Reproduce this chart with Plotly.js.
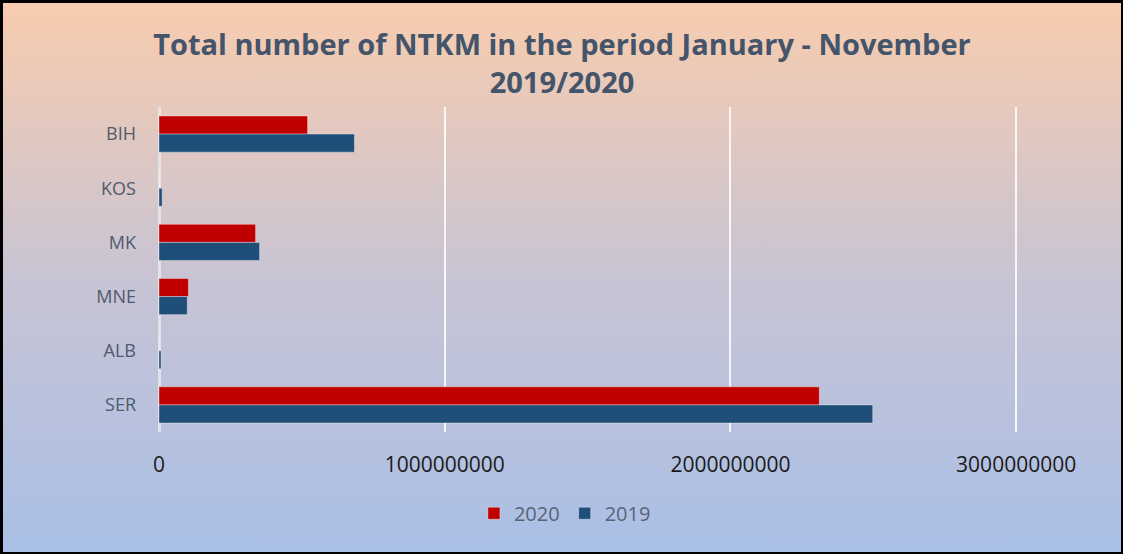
<!DOCTYPE html>
<html>
<head>
<meta charset="utf-8">
<script src="https://cdn.plot.ly/plotly-3.0.1.min.js"></script>
<style>
  html, body { margin: 0; padding: 0; background: #fff; }
  #chart {
    width: 1123px; height: 554px; box-sizing: border-box;
    border-left: 3px solid #000; border-top: 3px solid #000;
    border-right: 2px solid #000; border-bottom: 2px solid #000;
    background: linear-gradient(to bottom, #F8CCAE 0%, #C8C4D4 50%, #A9BFE6 100%);
  }
</style>
</head>
<body>
<div id="chart"></div>
<script>
const categories = ['BIH', 'KOS', 'MK', 'MNE', 'ALB', 'SER'];
const values2020 = [520000000, 0, 338000000, 103000000, 0, 2311000000];
const values2019 = [684000000, 11000000, 352000000, 99000000, 7000000, 2498000000];
const seriesNames = ['2020', '2019'];
const tickValues = [0, 1000000000, 2000000000, 3000000000];
const tickLabels = ['0', '1000000000', '2000000000', '3000000000'];

const traces = [
  {
    type: 'bar', orientation: 'h', name: seriesNames[0],
    y: categories, x: values2020,
    marker: { color: '#C00000', line: { color: 'rgba(255,255,255,0.35)', width: 1 } }
  },
  {
    type: 'bar', orientation: 'h', name: seriesNames[1],
    y: categories, x: values2019,
    marker: { color: '#1F4E79', line: { color: 'rgba(255,255,255,0.35)', width: 1 } }
  }
];

const layout = {
  width: 1118, height: 549,
  paper_bgcolor: 'rgba(0,0,0,0)',
  plot_bgcolor: 'rgba(0,0,0,0)',
  margin: { l: 156, r: 102, t: 104, b: 120 },
  barmode: 'group',
  bargap: 0.333,
  bargroupgap: 0,
  title: {
    text: 'Total number of NTKM in the period January - November<br>2019/2020',
    font: { family: 'Open Sans, sans-serif', size: 29, color: '#44546A', weight: 'bold' },
    x: 0.5, xanchor: 'center', xref: 'container',
    y: 0.905, yanchor: 'top', yref: 'container'
  },
  xaxis: {
    range: [0, 3010000000],
    tickvals: tickValues, ticktext: tickLabels,
    showgrid: true, gridcolor: 'rgba(255,255,255,0.85)', gridwidth: 2,
    zeroline: true, zerolinecolor: 'rgba(230,230,235,0.9)', zerolinewidth: 3,
    showline: false, ticks: '',
    tickfont: { family: 'Open Sans, sans-serif', size: 21, color: '#1a1a1a' },
    ticklabelstandoff: 18
  },
  yaxis: {
    autorange: 'reversed',
    type: 'category',
    showgrid: false, showline: false, ticks: '',
    tickfont: { family: 'Open Sans, sans-serif', size: 18, color: '#505a6c' },
    ticklabelstandoff: 22
  },
  showlegend: true,
  legend: {
    orientation: 'h', x: 0.472, xanchor: 'center', y: -0.25, yanchor: 'middle',
    font: { family: 'Open Sans, sans-serif', size: 20, color: '#5a6478' },
    bgcolor: 'rgba(0,0,0,0)', itemwidth: 30
  }
};

Plotly.newPlot('chart', traces, layout, { displayModeBar: false, staticPlot: true });
</script>
</body>
</html>
